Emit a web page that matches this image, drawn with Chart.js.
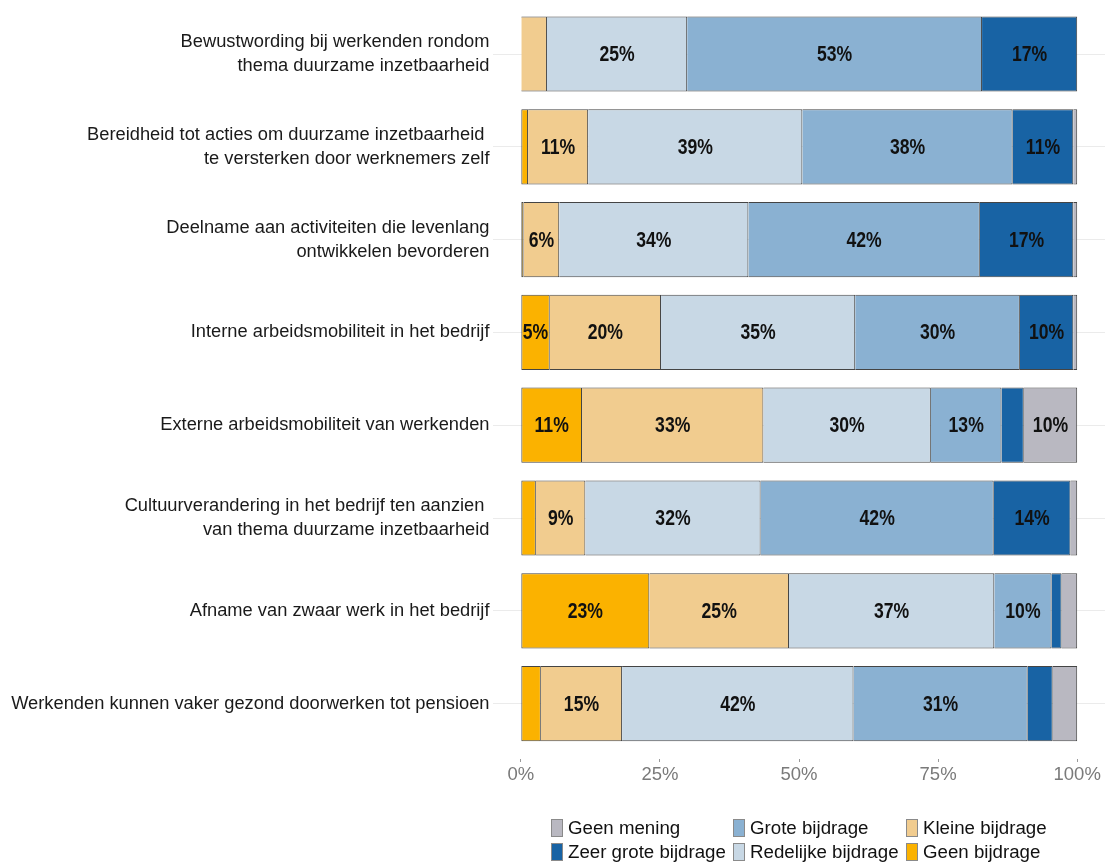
<!DOCTYPE html>
<html>
<head>
<meta charset="utf-8">
<script src="https://cdn.jsdelivr.net/npm/chart.js@4.4.1/dist/chart.umd.min.js"></script>
<style>
  body { margin: 0; background: #fff; }
  #wrap { position: relative; width: 1105px; height: 863px; overflow: hidden; }
  #legend { position: absolute; left: 0; top: 0; width: 1105px; height: 863px; pointer-events: none;
            font-family: "Liberation Sans", Arial, sans-serif; font-size: 18.7px; color: #111; }
  .item { position: absolute; white-space: nowrap; line-height: 22px; }
  .box { display: inline-block; width: 10px; height: 16px; border: 1px solid #8a8a8a;
         vertical-align: -3px; margin-right: 5px; }
</style>
</head>
<body>
<div id="wrap">
  <canvas id="chart-bar-1"></canvas>
  <div id="legend"></div>
</div>
<script>
// categories, top to bottom
var categories = [
    ['Bewustwording bij werkenden rondom', 'thema duurzame inzetbaarheid'],
    ['Bereidheid tot acties om duurzame inzetbaarheid ', 'te versterken door werknemers zelf'],
    ['Deelname aan activiteiten die levenlang', 'ontwikkelen bevorderen'],
    'Interne arbeidsmobiliteit in het bedrijf',
    'Externe arbeidsmobiliteit van werkenden',
    ['Cultuurverandering in het bedrijf ten aanzien ', 'van thema duurzame inzetbaarheid'],
    'Afname van zwaar werk in het bedrijf',
    'Werkenden kunnen vaker gezond doorwerken tot pensioen'
];

// percentages per answer, same order as categories
var geenBijdrage      = [0,    1.3,  0.5,  5.2,  11.0, 2.7,  23.1, 3.6];
var kleineBijdrage    = [4.7,  10.8, 6.4,  20.0, 32.6, 8.9,  25.1, 14.6];
var redelijkeBijdrage = [25.2, 38.5, 34.0, 34.9, 30.1, 31.5, 36.9, 41.6];
var groteBijdrage     = [53.0, 37.8, 41.6, 29.6, 12.7, 41.9, 10.3, 31.3];
var zeerGroteBijdrage = [17.1, 10.9, 16.8, 9.6,  4.0,  13.8, 1.8,  4.5];
var geenMening        = [0,    0.7,  0.7,  0.7,  9.6,  1.2,  2.8,  4.4];

var tickValues = [0, 25, 50, 75, 100];
var tickLabels = ['0%', '25%', '50%', '75%', '100%'];

function ds(label, data, color, first) {
    return {
        label: label,
        data: data,
        backgroundColor: color,
        borderColor: '#444',
        borderWidth: { top: 1, bottom: 1, right: 1, left: first ? 1 : 0 },
        borderSkipped: false,
        barPercentage: 0.81,
        categoryPercentage: 1
    };
}

var datasets = [
    ds('Geen bijdrage', geenBijdrage, '#fbb200', true),
    ds('Kleine bijdrage', kleineBijdrage, '#f1cc8f'),
    ds('Redelijke bijdrage', redelijkeBijdrage, '#c8d8e5'),
    ds('Grote bijdrage', groteBijdrage, '#8ab1d2'),
    ds('Zeer grote bijdrage', zeerGroteBijdrage, '#1863a4'),
    ds('Geen mening', geenMening, '#b9b8c1')
];

// value labels inside the segments
var segmentLabels = {
    id: 'segmentLabels',
    afterDatasetsDraw: function(chart) {
        var ctx = chart.ctx;
        chart.data.datasets.forEach(function(set, di) {
            var meta = chart.getDatasetMeta(di);
            meta.data.forEach(function(bar, i) {
                var v = set.data[i];
                if (v < 5) return;
                var p = bar.getProps(['x', 'y', 'base'], true);
                ctx.save();
                ctx.translate((p.x + p.base) / 2, p.y + 1);
                ctx.scale(0.8, 1);
                ctx.font = 'bold 22px "Liberation Sans", Arial, sans-serif';
                ctx.fillStyle = '#111';
                ctx.textAlign = 'center';
                ctx.textBaseline = 'middle';
                ctx.fillText(Math.round(v) + '%', 0, 0);
                ctx.restore();
            });
        });
    }
};

var ctx = document.getElementById('chart-bar-1').getContext('2d');
var myBarChart = new Chart(ctx, {
    type: 'bar',
    data: { labels: categories, datasets: datasets },
    options: {
        indexAxis: 'y',
        responsive: true,
        maintainAspectRatio: false,
        animation: false,
        layout: { padding: { top: 7.6, right: 0, bottom: 0, left: 0 } },
        plugins: { legend: { display: false }, tooltip: { enabled: false } },
        scales: {
            x: {
                stacked: true,
                min: -5,
                max: 105,
                afterBuildTicks: function(scale) {
                    scale.ticks = tickValues.map(function(v) { return { value: v }; });
                },
                afterFit: function(scale) { scale.height = 113; },
                ticks: {
                    callback: function(v) { return tickLabels[tickValues.indexOf(v)]; },
                    font: { family: '"Liberation Sans", Arial, sans-serif', size: 18.5 },
                    color: '#7a7a7a',
                    padding: 2,
                    maxRotation: 0
                },
                grid: {
                    drawOnChartArea: false,
                    tickLength: 12,
                    tickColor: '#9a9a9a',
                    tickBorderDash: [0, 9, 3, 20]
                },
                border: { display: false }
            },
            y: {
                stacked: true,
                afterFit: function(scale) {
                    scale.width = 493;
                    scale.paddingTop = 0;
                    scale.paddingBottom = 0;
                },
                ticks: {
                    font: { family: '"Liberation Sans", Arial, sans-serif', size: 18.3, lineHeight: 1.32 },
                    color: '#1a1a1a',
                    padding: 3.5
                },
                grid: { color: '#ebebeb', lineWidth: 1, offset: false, drawTicks: false },
                border: { display: false }
            }
        }
    },
    plugins: [segmentLabels]
});

// legend laid out in the reference's 3 x 2 grid
var legendOrder = ['Geen mening', 'Grote bijdrage', 'Kleine bijdrage',
                   'Zeer grote bijdrage', 'Redelijke bijdrage', 'Geen bijdrage'];
var colX = [551, 733, 906];
var rowY = [817, 841];
var legend = document.getElementById('legend');
legendOrder.forEach(function(name, k) {
    var set = datasets.filter(function(d) { return d.label === name; })[0];
    var el = document.createElement('div');
    el.className = 'item';
    el.style.left = colX[k % 3] + 'px';
    el.style.top = rowY[Math.floor(k / 3)] + 'px';
    el.innerHTML = '<span class="box" style="background:' + set.backgroundColor + '"></span>' + name;
    legend.appendChild(el);
});
</script>
</body>
</html>
